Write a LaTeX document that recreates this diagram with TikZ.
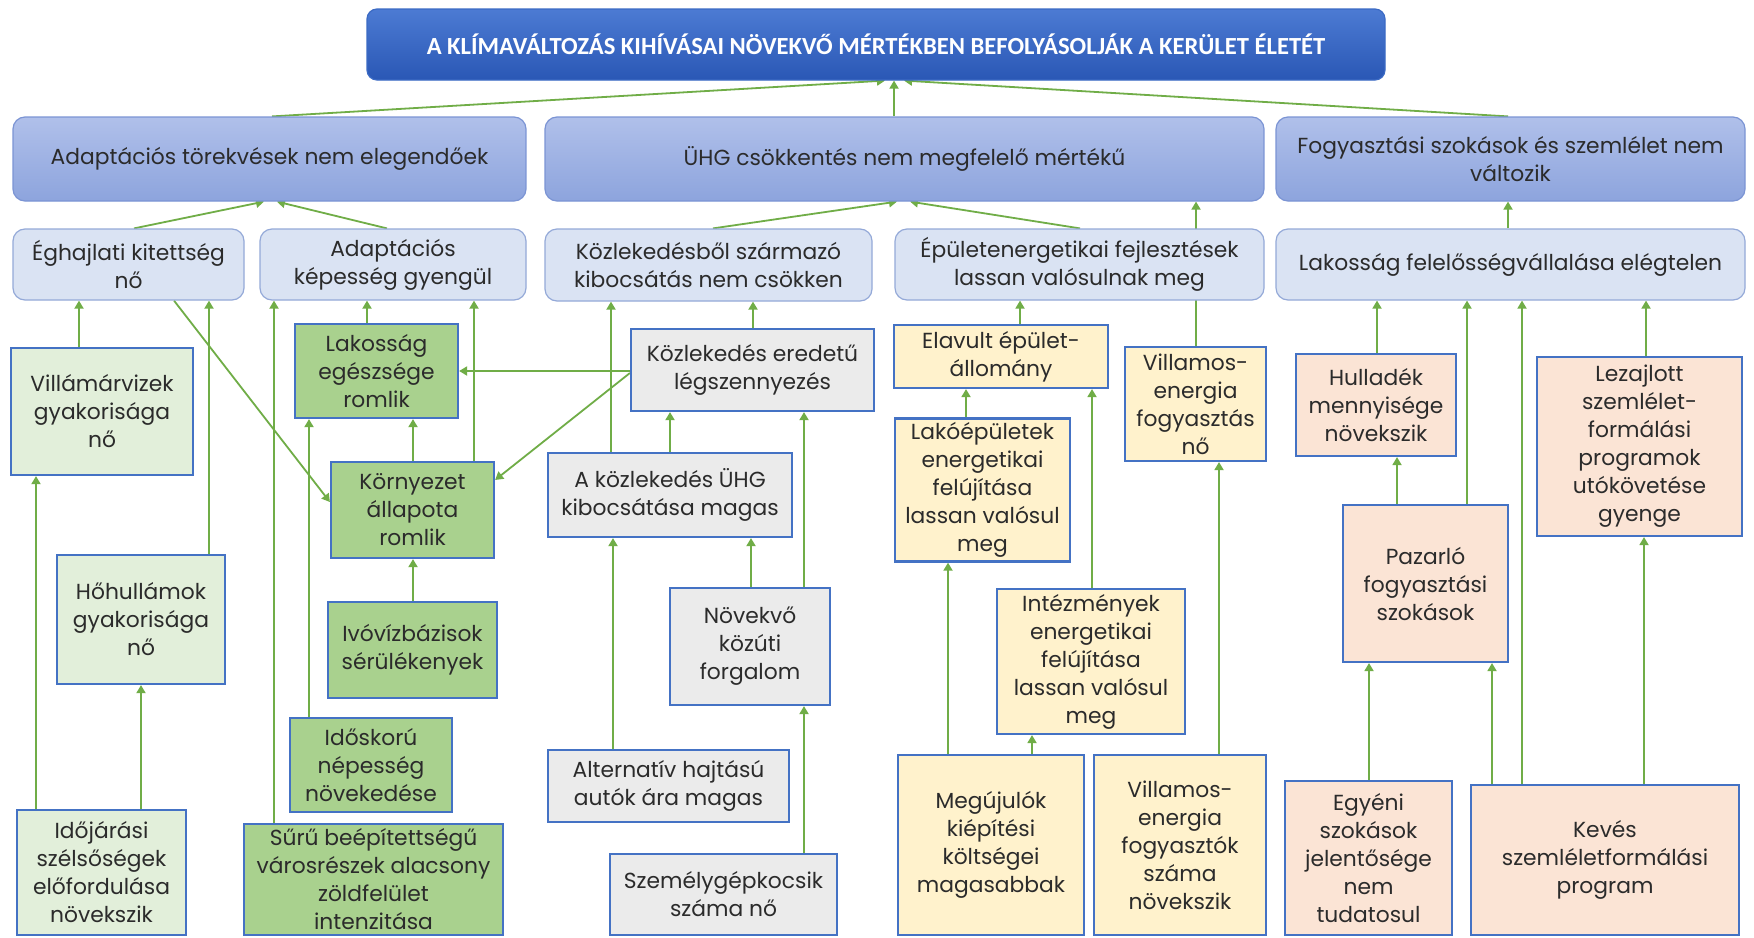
\documentclass[tikz,border=0pt]{standalone}
\usepackage{fontspec}
\setmainfont{Poppins}
\newfontfamily\ttlfont{Carlito}
\usetikzlibrary{arrows.meta,backgrounds}
\definecolor{ttop}{HTML}{4C7BD3}
\definecolor{tbot}{HTML}{2A57B5}
\definecolor{tbord}{HTML}{3B6AC4}
\definecolor{ltop}{HTML}{B0C0EA}
\definecolor{lbot}{HTML}{8DA4DD}
\definecolor{lbord}{HTML}{7B94D4}
\definecolor{lthree}{HTML}{DAE3F3}
\definecolor{lthreebord}{HTML}{94A9D8}
\definecolor{lgreen}{HTML}{E2EFDA}
\definecolor{dgreen}{HTML}{A9D18E}
\definecolor{greyc}{HTML}{EBEBEB}
\definecolor{yell}{HTML}{FFF2CC}
\definecolor{peach}{HTML}{FBE4D5}
\definecolor{bbord}{HTML}{4472C4}
\definecolor{agreen}{HTML}{70AD47}
\definecolor{txt}{HTML}{2B2B2B}
\newcommand{\bodyf}{\fontsize{10.9}{14}\selectfont}
\newcommand{\ttlf}{\ttlfont\bfseries\fontsize{12.3}{14}\selectfont}
\newcommand{\bx}[7]{%
  \pgfmathsetmacro{\myW}{(#5-#3)*0.5}%
  \pgfmathsetmacro{\myH}{(#6-#4)*0.5}%
  \node[#2, minimum width=\myW pt, minimum height=\myH pt] (#1) at ({(#3+#5)/2},{(#4+#6)/2}) {#7};}
\newcommand{\vup}[3]{\draw[arr] (#1,0 |- #2.north) -- (#1,0 |- #3.south);}
\tikzset{
  every node/.style={font=\bodyf, text=txt, align=center, inner sep=2pt},
  titlebox/.style={rounded corners=5pt, top color=ttop, bottom color=tbot, draw=tbord, line width=0.6pt, text=white, font=\ttlf},
  lvtwo/.style={rounded corners=6pt, top color=ltop, bottom color=lbot, draw=lbord, line width=0.6pt},
  lvthree/.style={rounded corners=6pt, fill=lthree, draw=lthreebord, line width=0.6pt},
  sq/.style={draw=bbord, line width=1.1pt},
  lg/.style={sq, fill=lgreen},
  dg/.style={sq, fill=dgreen},
  gr/.style={sq, fill=greyc},
  yl/.style={sq, fill=yell},
  pc/.style={sq, fill=peach},
  arr/.style={draw=agreen, line width=0.9pt, -{Triangle[length=4pt,width=4.5pt]}},
}
\begin{document}
\begin{tikzpicture}[x=0.5pt,y=-0.5pt]
\useasboundingbox (0,0) rectangle (1754,937);
% top levels
\bx{T}{titlebox}{367}{9}{1385}{80}{A KLÍMAVÁLTOZÁS KIHÍVÁSAI NÖVEKVŐ MÉRTÉKBEN BEFOLYÁSOLJÁK A KERÜLET ÉLETÉT}
\bx{A}{lvtwo}{13}{117}{526}{201}{Adaptációs törekvések nem elegendőek}
\bx{B}{lvtwo}{545}{117}{1264}{201}{ÜHG csökkentés nem megfelelő mértékű}
\bx{C}{lvtwo}{1276}{117}{1745}{201}{Fogyasztási szokások és szemlélet nem\\változik}
\bx{D1}{lvthree}{13}{229}{244}{300}{Éghajlati kitettség\\nő}
\bx{D2}{lvthree}{260}{229}{526}{300}{Adaptációs\\képesség gyengül}
\bx{D3}{lvthree}{545}{229}{872}{301}{Közlekedésből származó\\kibocsátás nem csökken}
\bx{D4}{lvthree}{895}{229}{1264}{300}{Épületenergetikai fejlesztések\\lassan valósulnak meg}
\bx{D5}{lvthree}{1276}{229}{1745}{300}{Lakosság felelősségvállalása elégtelen}
% column 1
\bx{V1}{lg}{11}{348}{193}{475}{Villámárvizek\\gyakorisága\\nő}
\bx{V2}{lg}{57}{555}{225}{684}{Hőhullámok\\gyakorisága\\nő}
\bx{V3}{lg}{17}{810}{186}{935}{Időjárási\\szélsőségek\\előfordulása\\növekszik}
% column 2
\bx{G1}{dg}{295}{324}{458}{418}{Lakosság\\egészsége\\romlik}
\bx{G2}{dg}{331}{462}{494}{558}{Környezet\\állapota\\romlik}
\bx{G3}{dg}{328}{602}{497}{698}{Ivóvízbázisok\\sérülékenyek}
\bx{G4}{dg}{290}{718}{452}{812}{Időskorú\\népesség\\növekedése}
\bx{G5}{dg}{244}{824}{503}{935}{Sűrű beépítettségű\\városrészek alacsony\\zöldfelület\\intenzitása}
% column 3
\bx{K1}{gr}{631}{329}{874}{411}{Közlekedés eredetű\\légszennyezés}
\bx{K2}{gr}{548}{453}{792}{537}{A közlekedés ÜHG\\kibocsátása magas}
\bx{K3}{gr}{670}{588}{830}{705}{Növekvő\\közúti\\forgalom}
\bx{K4}{gr}{548}{750}{789}{822}{Alternatív hajtású\\autók ára magas}
\bx{K5}{gr}{610}{854}{837}{935}{Személygépkocsik\\száma nő}
% column 4
\bx{Y1}{yl}{894}{325}{1108}{388}{Elavult épület-\\állomány}
\bx{Y2}{yl}{895}{422}{1070}{558}{Lakóépületek\\energetikai\\felújítása\\lassan valósul\\meg}
\bx{Y3}{yl}{1125}{347}{1266}{461}{Villamos-\\energia\\fogyasztás\\nő}
\bx{Y4}{yl}{997}{589}{1185}{734}{Intézmények\\energetikai\\felújítása\\lassan valósul\\meg}
\bx{Y5}{yl}{898}{755}{1084}{935}{Megújulók\\kiépítési\\költségei\\magasabbak}
\bx{Y6}{yl}{1094}{755}{1266}{935}{Villamos-\\energia\\fogyasztók\\száma\\növekszik}
% column 5
\bx{P1}{pc}{1296}{354}{1456}{456}{Hulladék\\mennyisége\\növekszik}
\bx{P2}{pc}{1537}{357}{1742}{536}{Lezajlott\\szemlélet-\\formálási\\programok\\utókövetése\\gyenge}
\bx{P3}{pc}{1343}{505}{1508}{662}{Pazarló\\fogyasztási\\szokások}
\bx{P4}{pc}{1285}{781}{1452}{935}{Egyéni\\szokások\\jelentősége\\nem\\tudatosul}
\bx{P5}{pc}{1471}{785}{1739}{935}{Kevés\\szemléletformálási\\program}
\begin{pgfonlayer}{background}
\fill[white] (0,0) rectangle (1754,937);
% to title
\draw[arr] (272,0 |- A.north) -- (885,0 |- T.south);
\vup{894}{B}{T}
\draw[arr] (1508,0 |- C.north) -- (904,0 |- T.south);
% to level 2
\draw[arr] (134,0 |- D1.north) -- (264,0 |- A.south);
\draw[arr] (387,0 |- D2.north) -- (277,0 |- A.south);
\draw[arr] (713,0 |- D3.north) -- (897,0 |- B.south);
\draw[arr] (1080,0 |- D4.north) -- (910,0 |- B.south);
\vup{1508}{D5}{C}
\vup{1196}{Y3}{B}
% column 1
\vup{79}{V1}{D1}
\vup{209}{V2}{D1}
\vup{36}{V3}{V1}
\vup{141}{V3}{V2}
\draw[arr] (174,0 |- D1.south) -- (G2.west |- 0,502);
% column 2
\vup{274}{G5}{D2}
\vup{367}{G1}{D2}
\vup{474}{G2}{D2}
\vup{413}{G2}{G1}
\vup{413}{G3}{G2}
\vup{309}{G4}{G1}
\draw[arr] (K1.west |- 0,371) -- (G1.east |- 0,371);
\draw[arr] (K1.west |- 0,373) -- (G2.east |- 0,480);
% column 3
\vup{611}{K2}{D3}
\vup{753}{K1}{D3}
\vup{670}{K2}{K1}
\vup{804}{K3}{K1}
\vup{751}{K3}{K2}
\vup{613}{K4}{K2}
\vup{804}{K5}{K3}
% column 4
\vup{1020}{Y1}{D4}
\vup{966}{Y2}{Y1}
\vup{1092}{Y4}{Y1}
\vup{948}{Y5}{Y2}
\vup{1032}{Y5}{Y4}
\vup{1219}{Y6}{Y3}
% column 5
\vup{1377}{P1}{D5}
\vup{1467}{P3}{D5}
\vup{1522}{P5}{D5}
\vup{1646}{P2}{D5}
\vup{1397}{P3}{P1}
\vup{1369}{P4}{P3}
\vup{1492}{P5}{P3}
\vup{1644}{P5}{P2}
\end{pgfonlayer}
\end{tikzpicture}
\end{document}
